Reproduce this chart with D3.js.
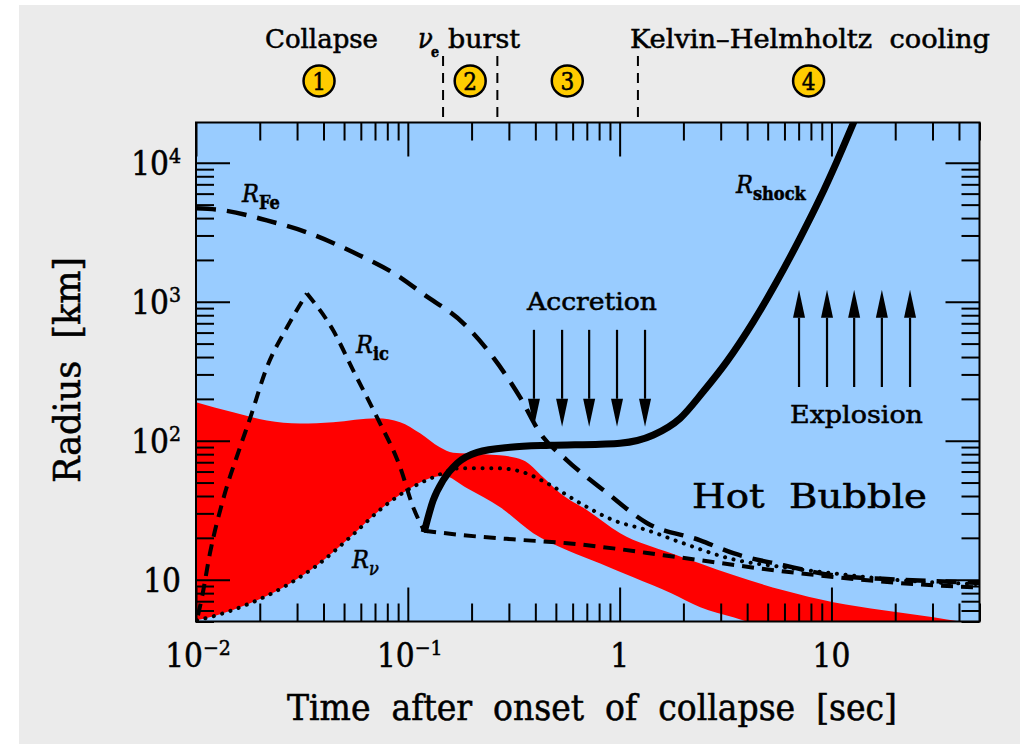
<!DOCTYPE html>
<html>
<head>
<meta charset="utf-8">
<script src="https://cdn.jsdelivr.net/npm/d3@7"></script>
<style>
body { margin: 0; background: #ffffff; }
text { font-family: "DejaVu Serif Condensed", "DejaVu Serif", serif; font-stretch: condensed; fill: #000; stroke: #000; stroke-width: 0.5px; }
</style>
</head>
<body>
<svg id="chart" width="1028" height="744"></svg>
<script>
// ---- values (time in sec, radius in km) ----
var feTime = [0.01, 0.0134, 0.0216, 0.0334, 0.0552, 0.092, 0.118, 0.183, 0.253, 0.339, 0.422, 0.566, 0.874, 1.35, 2.4, 3.44, 5.93, 10.2, 21.2, 50];
var feRadius = [4700, 4550, 3850, 3160, 2270, 1500, 1140, 700, 398, 205, 113, 72, 42, 25.5, 19.2, 15.5, 12.7, 10.75, 10.0, 9.5];

var icRiseTime = [0.01022, 0.01067, 0.01164, 0.0134, 0.01614, 0.018, 0.0216, 0.0269, 0.0334];
var icRiseRadius = [5.55, 7.47, 15.5, 37.3, 89.7, 145, 337, 655, 1148];
var icFallTime = [0.0334, 0.0444, 0.0552, 0.0716, 0.092, 0.106, 0.1194];
var icFallRadius = [1148, 623, 321, 147, 64.4, 33.2, 22.5];
var icInnerTime = [0.1194, 0.1825, 0.314, 0.5655, 0.933, 1.607, 2.403, 4.14, 7.13, 14.8, 30.3, 50];
var icInnerRadius = [22.5, 20.9, 19.5, 18.3, 16.8, 15.0, 13.8, 12.3, 11.1, 9.9, 9.1, 8.8];

var nuTime = [0.0101, 0.01256, 0.018, 0.02576, 0.0373, 0.0534, 0.0764, 0.0992, 0.1317, 0.1766, 0.2642, 0.3504, 0.455, 0.6514, 0.933, 1.35, 1.934, 3.44, 5.93, 10.2, 21.2, 50];
var nuRadius = [5.1, 5.55, 6.76, 8.8, 12.7, 20.2, 33.2, 44, 54.5, 63.3, 63.3, 59.3, 49.4, 35.5, 26.8, 22.7, 18.6, 14, 12.3, 11.1, 9.9, 9.3];

var shockTime = [0.1194, 0.1317, 0.1468, 0.171, 0.2126, 0.3042, 0.47, 0.81, 1.004, 1.443, 1.929, 2.484, 3.205, 4.28, 5.52, 7.11, 8.84, 10.6, 12.9];
var shockRadius = [21.9, 37.2, 51.9, 68.8, 82.5, 89.7, 92.7, 94.5, 95.9, 110, 145, 226, 371, 720, 1398, 2870, 5570, 10210, 20500];

var bandTopTime = [0.01, 0.01496, 0.0216, 0.031, 0.0444, 0.0716, 0.092, 0.1143, 0.1416, 0.1637, 0.1906, 0.273, 0.3504, 0.4356, 0.5243, 0.703, 1.006, 1.753, 2.403, 3.44, 5.93, 10.2, 17.6, 30.3, 40.6, 50];
var bandTopRadius = [189, 160, 140, 133, 136, 145, 136, 113, 89.7, 82, 81, 78.5, 72.3, 54.5, 41.8, 31.6, 21.6, 15.5, 13.1, 10.8, 8.39, 6.88, 6.02, 5.36, 5.0, 4.8];
var bandBottomTime = [0.0101, 0.01256, 0.018, 0.02576, 0.0373, 0.0534, 0.0764, 0.0992, 0.1317, 0.1468, 0.1906, 0.273, 0.3908, 0.5655, 0.81, 1.16, 1.753, 2.403, 3.44, 4.28, 50];
var bandBottomRadius = [5.1, 5.55, 6.76, 8.8, 12.7, 20.2, 33.2, 44, 54.5, 56, 45.5, 33.2, 21.6, 16.3, 13.1, 10.4, 7.98, 6.33, 5.36, 4.9, 4.0];

var accretionTimes = [0.394, 0.535, 0.718, 0.972, 1.318];
var accretionRadius = [628, 126];
var explosionTimes = [7.03, 9.53, 12.8, 17.3, 23.5];
var explosionRadius = [244, 1218];

var phaseBorders = [0.1467, 0.2647, 1.22];
var phaseCenters = [0.0381, 0.197, 0.566, 7.8];
var phaseNumbers = ["1", "2", "3", "4"];

var xTickValues = [0.01, 0.1, 1, 10];
var xTickLabels = ["10^\u22122", "10^\u22121", "1", "10"];
var yTickValues = [10, 100, 1000, 10000];
var yTickLabels = ["10", "10^2", "10^3", "10^4"];

function pairs(ts, rs) {
	return ts.map(function(t, i) {
		return { t: t, r: rs[i] };
	});
}

var svg = d3.select("#chart");
var frameLeft = 196, frameRight = 979.5, frameTop = 122.5, frameBottom = 621.5;

var x = d3.scaleLog().domain([0.01, 50]).range([frameLeft, frameRight]);
var y = d3.scaleLog().domain([5, 19500]).range([frameBottom, frameTop]);

// page background
svg.append("rect").attr("x", 19).attr("y", 5).attr("width", 1001).attr("height", 739).attr("fill", "#ebebeb");

svg.append("clipPath").attr("id", "plotclip")
	.append("rect").attr("x", frameLeft).attr("y", frameTop)
	.attr("width", frameRight - frameLeft).attr("height", frameBottom - frameTop);

var plot = svg.append("g").attr("clip-path", "url(#plotclip)");
plot.append("rect").attr("x", frameLeft).attr("y", frameTop)
	.attr("width", frameRight - frameLeft).attr("height", frameBottom - frameTop)
	.attr("fill", "#99ccff");

// red band: fill below the upper edge, then cover below the lower edge with the background blue
var area = d3.area()
	.x(function(d) { return x(d.t); })
	.y0(frameBottom + 5)
	.y1(function(d) { return y(d.r); })
	.curve(d3.curveMonotoneX);
plot.append("path").attr("d", area(pairs(bandTopTime, bandTopRadius))).attr("fill", "#ff0000");
plot.append("path").attr("d", area(pairs(bandBottomTime, bandBottomRadius))).attr("fill", "#99ccff");

var line = d3.line()
	.x(function(d) { return x(d.t); })
	.y(function(d) { return y(d.r); })
	.curve(d3.curveMonotoneX);

function curve(data, width, dash, cap) {
	plot.append("path")
		.attr("d", line(data))
		.attr("fill", "none")
		.attr("stroke", "#000")
		.attr("stroke-width", width)
		.attr("stroke-dasharray", dash)
		.attr("stroke-linecap", cap || "butt")
		.attr("stroke-linejoin", "round");
}

curve(pairs(feTime, feRadius), 4.5, "20,11");
curve(pairs(icRiseTime, icRiseRadius), 4, "12,8");
curve(pairs(icFallTime, icFallRadius), 4, "12,8");
curve(pairs(icInnerTime, icInnerRadius), 4, "12,8");
curve(pairs(nuTime, nuRadius), 4, "0.1,8.6", "round");
curve(pairs(shockTime, shockRadius), 7, null);

// accretion / explosion arrows
function arrows(times, rs) {
	times.forEach(function(t) {
		var px = x(t), y0 = y(rs[0]), y1 = y(rs[1]);
		var dir = y1 > y0 ? 1 : -1;
		var yb = y1 - dir * 28;
		plot.append("line").attr("x1", px).attr("x2", px).attr("y1", y0).attr("y2", yb)
			.attr("stroke", "#000").attr("stroke-width", 2.2);
		plot.append("path")
			.attr("d", "M" + px + "," + y1 + "L" + (px - 6) + "," + yb + "L" + (px + 6) + "," + yb + "Z")
			.attr("fill", "#000");
	});
}
arrows(accretionTimes, accretionRadius);
arrows(explosionTimes, explosionRadius);

// ticks on all four sides, pointing inwards
function minorTicks(domain) {
	var out = [];
	for (var e = -3; e <= 5; e++) {
		for (var m = 2; m <= 9; m++) {
			var v = m * Math.pow(10, e);
			if (v >= domain[0] * 0.999 && v <= domain[1] * 1.001) out.push(v);
		}
	}
	return out;
}
var xMinor = minorTicks(x.domain());
var yMinor = minorTicks(y.domain());

function tickGroup(axis, transform) {
	var g = svg.append("g").attr("transform", transform).call(axis);
	g.select(".domain").remove();
	g.selectAll("line").attr("stroke", "#000").attr("stroke-width", 2);
	g.selectAll("text").remove();
}
tickGroup(d3.axisBottom(x).tickValues(xTickValues).tickSize(-34), "translate(0," + frameBottom + ")");
tickGroup(d3.axisBottom(x).tickValues(xMinor).tickSize(-18), "translate(0," + frameBottom + ")");
tickGroup(d3.axisTop(x).tickValues(xTickValues).tickSize(-34), "translate(0," + frameTop + ")");
tickGroup(d3.axisTop(x).tickValues(xMinor).tickSize(-18), "translate(0," + frameTop + ")");
tickGroup(d3.axisLeft(y).tickValues(yTickValues).tickSize(-34), "translate(" + frameLeft + ",0)");
tickGroup(d3.axisLeft(y).tickValues(yMinor).tickSize(-18), "translate(" + frameLeft + ",0)");
tickGroup(d3.axisRight(y).tickValues(yTickValues).tickSize(-34), "translate(" + frameRight + ",0)");
tickGroup(d3.axisRight(y).tickValues(yMinor).tickSize(-18), "translate(" + frameRight + ",0)");

svg.append("rect").attr("x", frameLeft).attr("y", frameTop)
	.attr("width", frameRight - frameLeft).attr("height", frameBottom - frameTop)
	.attr("fill", "none").attr("stroke", "#000").attr("stroke-width", 2);

// tick labels with superscripts
function powerLabel(str, px, py, anchor) {
	var parts = str.split("^");
	var t = svg.append("text").attr("x", px).attr("y", py).attr("text-anchor", anchor)
		.attr("font-size", 33);
	t.append("tspan").text(parts[0]);
	if (parts.length > 1) {
		t.append("tspan").attr("dy", -12).attr("font-size", 21).text(parts[1]);
	}
}
xTickValues.forEach(function(v, i) {
	powerLabel(xTickLabels[i], x(v) + (xTickLabels[i].length > 2 ? 2 : 0), 667, "middle");
});
yTickValues.forEach(function(v, i) {
	powerLabel(yTickLabels[i], 181, y(v) + 12, "end");
});

// axis titles
svg.append("text").attr("x", 592).attr("y", 720).attr("text-anchor", "middle")
	.attr("font-size", 35).attr("textLength", 610).attr("lengthAdjust", "spacingAndGlyphs")
	.style("white-space", "pre")
	.text("Time  after  onset  of  collapse  [sec]");
svg.append("text").attr("transform", "translate(80,370) rotate(-90)").attr("text-anchor", "middle")
	.attr("font-size", 37).attr("textLength", 226).attr("lengthAdjust", "spacingAndGlyphs")
	.style("white-space", "pre")
	.text("Radius  [km]");

// phases above the frame
phaseBorders.forEach(function(t) {
	svg.append("line").attr("x1", x(t)).attr("x2", x(t)).attr("y1", 56).attr("y2", frameTop)
		.attr("stroke", "#000").attr("stroke-width", 2).attr("stroke-dasharray", "10,7");
});
phaseCenters.forEach(function(t, i) {
	svg.append("circle").attr("cx", x(t)).attr("cy", 81).attr("r", 15.5)
		.attr("fill", "#ffcc00").attr("stroke", "#000").attr("stroke-width", 2.5);
	svg.append("text").attr("x", x(t)).attr("y", 89.5).attr("text-anchor", "middle")
		.attr("font-size", 24).text(phaseNumbers[i]);
});

function plainText(str, px, py, size, len, anchor) {
	var t = svg.append("text").attr("x", px).attr("y", py).attr("font-size", size)
		.attr("text-anchor", anchor || "start").style("white-space", "pre").text(str);
	if (len) t.attr("textLength", len).attr("lengthAdjust", "spacingAndGlyphs");
	return t;
}
plainText("Collapse", 265, 48, 26, 113);
plainText("\u03bd", 418, 48, 27).attr("font-style", "italic");
plainText("e", 431, 57, 14).attr("font-weight", "bold");
plainText("burst", 448, 48, 26, 72);
plainText("Kelvin\u2013Helmholtz  cooling", 630, 48, 26, 360);

// labels inside the frame
plainText("Accretion", 527, 310, 25, 130);
plainText("Explosion", 790, 423, 25, 133);
plainText("Hot  Bubble", 692, 508, 34, 235);

function curveLabel(sub, px, py, subItalic) {
	var t = svg.append("text").attr("x", px).attr("y", py).attr("font-size", 25);
	t.append("tspan").attr("font-style", "italic").text("R");
	t.append("tspan").attr("dy", 7).attr("font-size", 18)
		.attr("font-weight", subItalic ? "normal" : "bold")
		.attr("font-style", subItalic ? "italic" : "normal")
		.text(sub);
}
curveLabel("Fe", 242, 202);
curveLabel("ic", 356, 353);
curveLabel("\u03bd", 352, 568, true);
curveLabel("shock", 736, 193);
</script>
</body>
</html>
